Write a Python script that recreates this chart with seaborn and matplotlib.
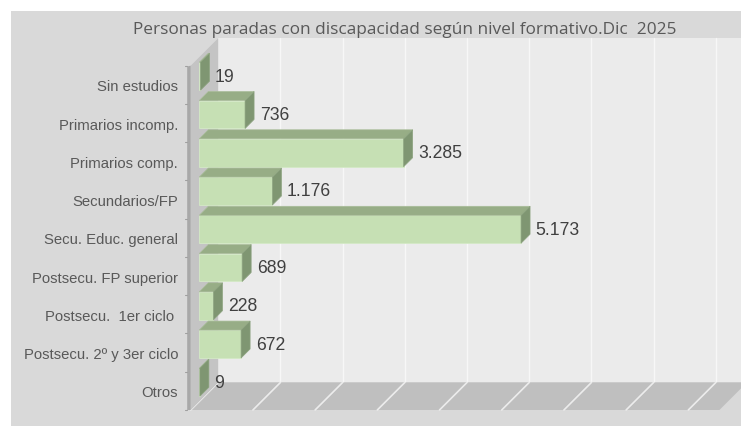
import matplotlib
matplotlib.use('Agg')
import matplotlib.pyplot as plt
from matplotlib.patches import Polygon, Rectangle
import seaborn as sns
import pandas as pd

# datos
categorias = ["Sin estudios", "Primarios incomp.", "Primarios comp.", "Secundarios/FP",
              "Secu. Educ. general", "Postsecu. FP superior", "Postsecu.  1er ciclo ",
              "Postsecu. 2º y 3er ciclo", "Otros"]
parados = [19, 736, 3285, 1176, 5173, 689, 228, 672, 9]
titulo = "Personas paradas con discapacidad según nivel formativo.Dic  2025"
x_max = 8500
grid_vals = list(range(0, 9000, 1000))

df = pd.DataFrame({"nivel": categorias, "parados": parados})

sns.set_theme(style="white")
plt.rcParams['font.family'] = ['Liberation Sans', 'DejaVu Sans']

W, H = 741, 427
fig = plt.figure(figsize=(W / 100, H / 100), dpi=100)
fig.patch.set_facecolor('white')
# fondo gris del area del grafico
fig.patches.append(Rectangle((11 / W, 0), 1, 1 - 12 / H, transform=fig.transFigure,
                             facecolor='#d9d9d9', edgecolor='none', zorder=-10))

# plano frontal de las barras (pixeles)
px_per_k = 62.2
x0_px = 199.3
top_px, bot_px = 58.1, 402.4
ax = fig.add_axes([x0_px / W, 1 - bot_px / H, px_per_k * x_max / 1000 / W, (bot_px - top_px) / H])
ax.patch.set_visible(False)

n = len(categorias)
dxu = 1000 / px_per_k              # unidades x por pixel
dyu = n / (bot_px - top_px)         # unidades categoria por pixel
BAR_D0, BAR_D1, BACK_D = 8.6, 17.6, 27.5


def proj(v, c, d):
    # proyeccion oblicua: profundidad d en pixeles (arriba-derecha)
    return (v + (d - BAR_D0) * dxu, c - (d - BAR_D0) * dyu)


def poly(pts, **kw):
    p = Polygon([proj(*q) for q in pts], closed=True, clip_on=False, **kw)
    ax.add_patch(p)
    return p


c_top, c_bot = -0.5, n - 0.5
# pared del fondo
poly([(0, c_top, BACK_D), (x_max, c_top, BACK_D), (x_max, c_bot, BACK_D), (0, c_bot, BACK_D)],
     facecolor='#ebebeb', edgecolor='none', zorder=0.5)
for g in grid_vals[1:]:
    ax.plot(*zip(proj(g, c_top, BACK_D), proj(g, c_bot, BACK_D)), color='#f7f7f7', lw=1,
            zorder=0.6, clip_on=False)
# suelo
poly([(0, c_bot, 0), (x_max, c_bot, 0), (x_max, c_bot, BACK_D), (0, c_bot, BACK_D)],
     facecolor='#bfbfbf', edgecolor='none', zorder=0.7)
for g in grid_vals:
    ax.plot(*zip(proj(g, c_bot, 0), proj(g, c_bot, BACK_D)), color='#ececec', lw=1.2,
            zorder=0.8, clip_on=False)
# pared lateral
poly([(0, c_top, 0), (0, c_top, BACK_D), (0, c_bot, BACK_D), (0, c_bot, 0)],
     facecolor='#c4c4c4', edgecolor='none', zorder=0.9)
edge = -3.5 * dxu
poly([(edge, c_top + 0.02, 0), (0, c_top, 0), (0, c_bot, 0), (edge, c_bot, 0)],
     facecolor='#a8a8a8', edgecolor='none', zorder=0.95)
for k in range(n + 1):
    ax.plot(*zip(proj(edge - 2 * dxu, c_top + k, 0), proj(edge, c_top + k, 0)),
            color='#a0a0a0', lw=0.8, clip_on=False, zorder=0.95)

# barras
sns.barplot(data=df, x="parados", y="nivel", orient="h", width=0.73, color='#c6e0b4',
            saturation=1, edgecolor='#d4e9c6', linewidth=0.6, ax=ax, zorder=3)
for rect in list(ax.patches):
    if not isinstance(rect, Rectangle):
        continue
    x, y, w, h = rect.get_x(), rect.get_y(), rect.get_width(), rect.get_height()
    poly([(x, y, BAR_D0), (x + w, y, BAR_D0), (x + w, y, BAR_D1), (x, y, BAR_D1)],
         facecolor='#97ad86', edgecolor='#a9bd99', lw=0.5, zorder=3.1)
    poly([(x + w, y, BAR_D0), (x + w, y + h, BAR_D0), (x + w, y + h, BAR_D1), (x + w, y, BAR_D1)],
         facecolor='#7f9672', edgecolor='#8ca37f', lw=0.5, zorder=3.2)

etiquetas = [f"{v:,}".replace(",", ".") for v in parados]
ax.bar_label(ax.containers[0], labels=etiquetas, padding=10.5, fontsize=12.7,
             color='#404040', clip_on=False)

# etiquetas de categoria en el plano frontal
for i, cat in enumerate(categorias):
    lx, ly = proj(0, i, 0)
    ax.text(lx - 12.7 * dxu, ly + 1.5 * dyu, cat, ha='right', va='center',
            fontsize=10.7, color='#595959', clip_on=False)

ax.set_xlim(0, x_max)
ax.set_ylim(n - 0.5, -0.5)
ax.set_xlabel("")
ax.set_ylabel("")
ax.set_xticks([])
ax.set_yticks([])
sns.despine(ax=ax, left=True, bottom=True)

fig.text(405 / W, 1 - 30 / H, titulo, ha='center', va='center', fontsize=12.4,
         color='#595959', family=['Open Sans', 'DejaVu Sans'])

fig.savefig('out.png', dpi=100)
